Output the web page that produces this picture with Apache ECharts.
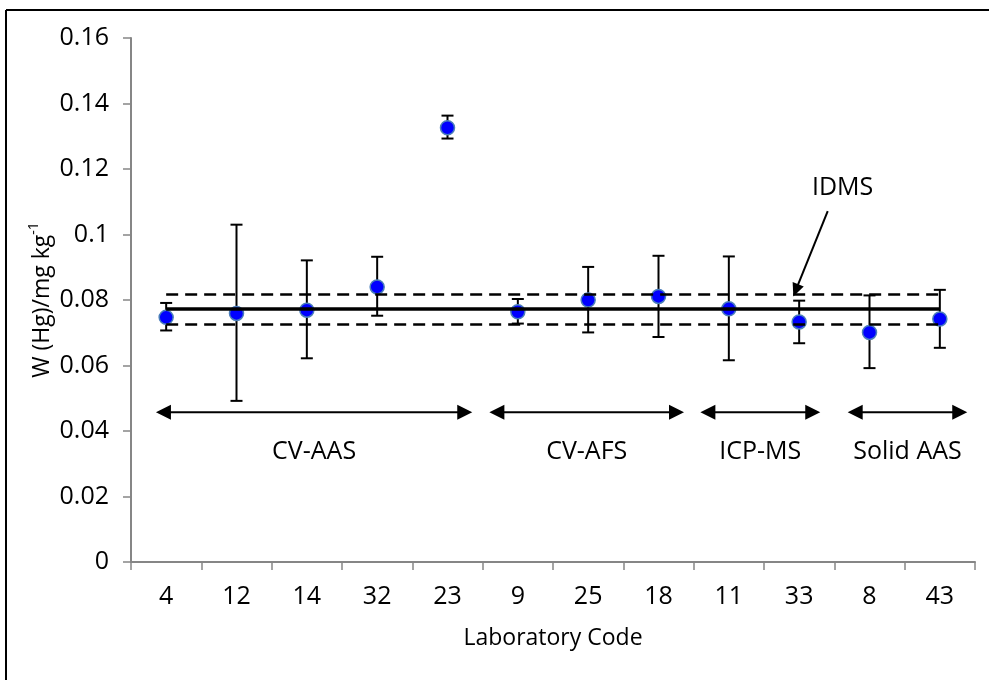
<!DOCTYPE html>
<html>
<head>
<meta charset="utf-8">
<script src="https://cdn.jsdelivr.net/npm/echarts@6/dist/echarts.min.js"></script>
<style>
html,body{margin:0;padding:0;background:#fff;}
#chart{width:989px;height:680px;}
</style>
</head>
<body>
<div id="chart"></div>
<script>
// ---- data ----
const categories = ['4','12','14','32','23','9','25','18','11','33','8','43'];
const values = [0.0747,0.0759,0.0769,0.0840,0.1326,0.0764,0.0800,0.0811,0.0773,0.0733,0.0701,0.0742];
const upper  = [0.0791,0.1030,0.0921,0.0932,0.1363,0.0803,0.0901,0.0935,0.0933,0.0798,0.0814,0.0831];
const lower  = [0.0707,0.0492,0.0622,0.0752,0.1293,0.0728,0.0701,0.0687,0.0616,0.0668,0.0592,0.0654];
const idmsValue = 0.0773;
const idmsUpper = 0.0818;
const idmsLower = 0.0726;
const yTicks = [0,0.02,0.04,0.06,0.08,0.1,0.12,0.14,0.16];
// method groups: span in category units (0..12), arrow level, label level
const groupNames  = ['CV-AAS','CV-AFS','ICP-MS','Solid AAS'];
const groupStart  = [0.355, 5.095, 8.095, 10.19];
const groupEnd    = [4.852, 7.863, 9.800, 11.89];
const groupArrowY = 0.0457;
const groupLabelY = 0.0337;
// IDMS annotation: text position, arrow start and tip
const idmsText = ['IDMS', 10.117, 0.1143];
const idmsArrowFrom = [9.906, 0.1071];
const idmsArrowTo = [9.417, 0.0811];

const FONT = '"Open Sans", "Liberation Sans", sans-serif';
const chart = echarts.init(document.getElementById('chart'));

function arrowHead(tip, from, len, half) {
  const dx = tip[0]-from[0], dy = tip[1]-from[1];
  const L = Math.sqrt(dx*dx+dy*dy);
  const ux = dx/L, uy = dy/L;
  const bx = tip[0]-ux*len, by = tip[1]-uy*len;
  return [[tip[0],tip[1]],[bx - uy*half, by + ux*half],[bx + uy*half, by - ux*half]];
}

const option = {
  animation: false,
  backgroundColor: '#ffffff',
  grid: {left:131, right:14, top:38, bottom:118, containLabel:false},
  xAxis: [{
    type:'category', data:categories, boundaryGap:true,
    axisLine:{show:true, lineStyle:{color:'#868686', width:2}},
    axisTick:{show:true, interval:0, length:8, lineStyle:{color:'#868686', width:1.5}},
    axisLabel:{interval:0, margin:22, color:'#000', fontSize:25, fontFamily:FONT},
    splitLine:{show:false},
    name:'Laboratory Code', nameLocation:'middle', nameGap:65, nameMoveOverlap:false,
    nameTextStyle:{color:'#000', fontSize:23, fontFamily:FONT}
  },{
    type:'value', min:0, max:12, show:false, gridIndex:0
  }],
  yAxis: [{
    type:'value', min:0, max:0.16, interval:0.02,
    axisLine:{show:true, lineStyle:{color:'#868686', width:2}},
    axisTick:{show:true, length:8, lineStyle:{color:'#868686', width:1.5}},
    axisLabel:{margin:22, color:'#000', fontSize:25, fontFamily:FONT,
      formatter: v => { const t = yTicks.find(x => Math.abs(x-v)<1e-9); return t===undefined? '' : String(t); }},
    splitLine:{show:false},
    name:'W (Hg)/mg kg{sup|-1}', nameLocation:'middle', nameGap:74, nameRotate:90, nameMoveOverlap:false,
    nameTextStyle:{color:'#000', fontSize:23, fontFamily:FONT, lineHeight:30,
      rich:{sup:{fontSize:14, fontFamily:FONT, color:'#000', verticalAlign:'top', lineHeight:30, padding:[0,0,10,0]}}}
  }],
  series: [
    {
      type:'line', xAxisIndex:0, yAxisIndex:0, data:[], silent:true,
      markLine:{
        silent:true, symbol:'none', label:{show:false},
        data:[
          [{coord:[categories[0], idmsValue], lineStyle:{color:'#000', width:3.5, type:'solid'}},
           {coord:[categories[categories.length-1], idmsValue]}],
          [{coord:[categories[0], idmsUpper], lineStyle:{color:'#000', width:2.5, type:[12,7]}},
           {coord:[categories[categories.length-1], idmsUpper]}],
          [{coord:[categories[0], idmsLower], lineStyle:{color:'#000', width:2.5, type:[12,7]}},
           {coord:[categories[categories.length-1], idmsLower]}]
        ]
      }
    },
    {
      type:'custom', xAxisIndex:0, yAxisIndex:0, silent:true, z:3,
      data: categories.map((c,i)=>[i, lower[i], upper[i]]),
      renderItem: function(params, api){
        const i = api.value(0);
        const lo = api.coord([i, api.value(1)]);
        const hi = api.coord([i, api.value(2)]);
        const w = 6;
        const st = {stroke:'#000', lineWidth:2};
        return {type:'group', children:[
          {type:'line', shape:{x1:lo[0], y1:lo[1], x2:hi[0], y2:hi[1]}, style:st},
          {type:'line', shape:{x1:lo[0]-w, y1:lo[1], x2:lo[0]+w, y2:lo[1]}, style:st},
          {type:'line', shape:{x1:hi[0]-w, y1:hi[1], x2:hi[0]+w, y2:hi[1]}, style:st}
        ]};
      }
    },
    {
      type:'scatter', xAxisIndex:0, yAxisIndex:0, z:4,
      data: values, symbol:'circle', symbolSize:14,
      itemStyle:{color:'#0000FF', borderColor:'#4A7EBB', borderWidth:1.5, opacity:1}
    },
    {
      type:'custom', xAxisIndex:1, yAxisIndex:0, silent:true, z:5,
      data: groupNames.map((n,i)=>[groupStart[i], groupEnd[i], groupArrowY, groupLabelY]),
      renderItem: function(params, api){
        const idx = params.dataIndex;
        const a = api.coord([api.value(0), api.value(2)]);
        const b = api.coord([api.value(1), api.value(2)]);
        const m = api.coord([(api.value(0)+api.value(1))/2, api.value(3)]);
        const len = 15, half = 7.5;
        return {type:'group', children:[
          {type:'line', shape:{x1:a[0]+len-2, y1:a[1], x2:b[0]-len+2, y2:b[1]}, style:{stroke:'#000', lineWidth:2}},
          {type:'polygon', shape:{points:arrowHead(a, b, len, half)}, style:{fill:'#000'}},
          {type:'polygon', shape:{points:arrowHead(b, a, len, half)}, style:{fill:'#000'}},
          {type:'text', style:{text:groupNames[idx], x:m[0], y:m[1], align:'center', verticalAlign:'middle',
            fontSize:25, fontFamily:FONT, fill:'#000'}}
        ]};
      }
    },
    {
      type:'custom', xAxisIndex:1, yAxisIndex:0, silent:true, z:5,
      data: [[idmsArrowFrom[0], idmsArrowFrom[1], idmsArrowTo[0], idmsArrowTo[1], idmsText[1], idmsText[2]]],
      renderItem: function(params, api){
        const f = api.coord([api.value(0), api.value(1)]);
        const t = api.coord([api.value(2), api.value(3)]);
        const tx = api.coord([api.value(4), api.value(5)]);
        const head = arrowHead(t, f, 13, 6);
        const dx=t[0]-f[0], dy=t[1]-f[1], L=Math.sqrt(dx*dx+dy*dy);
        const e = [t[0]-dx/L*11, t[1]-dy/L*11];
        return {type:'group', children:[
          {type:'line', shape:{x1:f[0], y1:f[1], x2:e[0], y2:e[1]}, style:{stroke:'#000', lineWidth:2}},
          {type:'polygon', shape:{points:head}, style:{fill:'#000'}},
          {type:'text', style:{text:idmsText[0], x:tx[0], y:tx[1], align:'center', verticalAlign:'middle',
            fontSize:25, fontFamily:FONT, fill:'#000'}}
        ]};
      }
    }
  ],
  graphic: [
    {type:'line', shape:{x1:6, y1:10, x2:989, y2:10}, style:{stroke:'#000', lineWidth:2}, silent:true},
    {type:'line', shape:{x1:6, y1:10, x2:6, y2:680}, style:{stroke:'#000', lineWidth:2}, silent:true}
  ]
};
chart.setOption(option);
</script>
</body>
</html>
